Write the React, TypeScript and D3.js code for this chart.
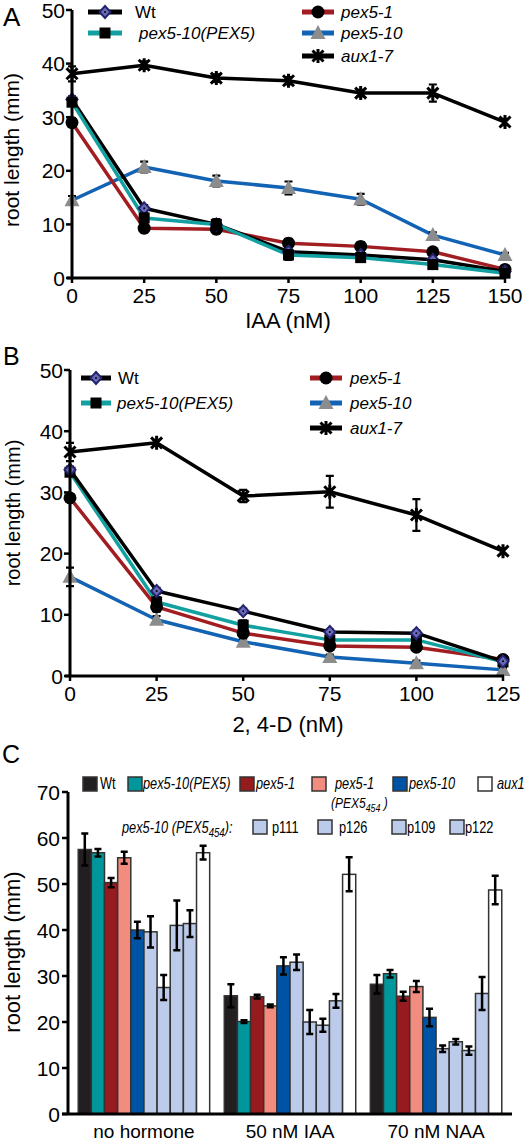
import React from 'react';
import * as d3 from 'd3';

const FONT = "'Liberation Sans', Arial, Helvetica, sans-serif";

// ---------- Panel A : IAA ----------
const iaaDoses = [0, 25, 50, 75, 100, 125, 150];
const iaaWt = [33.3, 13.0, 10.0, 4.9, 4.3, 3.4, 1.2];
const iaaWtErr = [0.6, 0.6, 0.6, 0.5, 0.5, 0.4, 0.3];
const iaaPex510PEX5 = [32.8, 11.2, 10.0, 4.3, 3.8, 2.5, 0.9];
const iaaPex510PEX5Err = [0.6, 0.8, 1.0, 0.9, 0.8, 0.5, 0.3];
const iaaPex51 = [29.0, 9.3, 9.1, 6.5, 5.9, 4.9, 1.6];
const iaaPex51Err = [0.8, 0.8, 0.8, 0.8, 0.8, 0.5, 0.5];
const iaaPex510 = [14.5, 20.7, 18.1, 16.8, 14.7, 8.0, 4.3];
const iaaPex510Err = [0.8, 1.0, 1.0, 1.2, 1.0, 0.5, 0.4];
const iaaAux17 = [38.1, 39.7, 37.3, 36.8, 34.5, 34.5, 29.1];
const iaaAux17Err = [1.4, 0.7, 0.7, 0.7, 0.6, 1.6, 0.6];

// ---------- Panel B : 2,4-D ----------
const dDoses = [0, 25, 50, 75, 100, 125];
const dWt = [33.7, 13.9, 10.6, 7.2, 7.0, 2.4];
const dWtErr = [0.5, 0.5, 0.4, 0.4, 0.4, 0.3];
const dPex510PEX5 = [33.3, 12.1, 8.3, 5.9, 5.9, 2.3];
const dPex510PEX5Err = [0.6, 0.8, 0.8, 0.6, 0.6, 0.3];
const dPex51 = [29.1, 11.3, 7.0, 4.9, 4.7, 2.7];
const dPex51Err = [0.6, 0.8, 0.6, 0.6, 0.6, 0.4];
const dPex510 = [16.2, 9.2, 5.6, 3.1, 2.1, 1.0];
const dPex510Err = [1.5, 0.6, 0.5, 0.4, 0.4, 0.3];
const dAux17 = [36.6, 38.1, 29.4, 30.1, 26.3, 20.4];
const dAux17Err = [1.5, 0.5, 1.0, 2.6, 2.6, 0.5];

const lineTicksY = [0, 10, 20, 30, 40, 50];

// ---------- Panel C : bars ----------
const groups = ['no hormone', '50 nM IAA', '70 nM NAA'];
const genotypes = ['Wt', 'pex5-10(PEX5)', 'pex5-1', 'pex5-1(PEX5454)', 'pex5-10', 'p111', 'p126', 'p109', 'p122', 'aux1'];
const genotypeColors = ['#231f20', '#00979c', '#951b1e', '#f28c7f', '#0053a4', '#bccbe9', '#bccbe9', '#bccbe9', '#bccbe9', '#ffffff'];
const noHormone = [57.5, 56.8, 50.3, 55.7, 40.0, 39.6, 27.5, 41.0, 41.4, 56.8];
const noHormoneErr = [3.5, 0.8, 1.0, 1.3, 1.8, 3.4, 2.7, 5.4, 2.9, 1.5];
const iaa50 = [25.7, 20.1, 25.5, 23.5, 32.2, 33.0, 20.0, 19.3, 24.6, 52.1];
const iaa50Err = [2.5, 0.3, 0.4, 0.3, 1.9, 1.7, 2.6, 1.4, 1.5, 3.7];
const naa70 = [28.2, 30.5, 25.6, 27.7, 21.0, 14.2, 15.7, 13.8, 26.2, 48.7];
const naa70Err = [2.0, 0.8, 1.0, 1.2, 1.9, 0.7, 0.6, 0.9, 3.6, 3.1];
const barTicksY = [0, 10, 20, 30, 40, 50, 60, 70];

type MarkerKind = 'diamond' | 'square' | 'circle' | 'triangle' | 'star';

function Marker({ m, x, y }: { m: MarkerKind; x: number; y: number }) {
  switch (m) {
    case 'diamond':
      return (
        <g>
          <path d={`M${x},${y - 6}L${x + 5.5},${y}L${x},${y + 6}L${x - 5.5},${y}Z`} fill="#6a6ab8" stroke="#23236e" strokeWidth={2} />
          <circle cx={x} cy={y} r={1} fill="#000" />
        </g>
      );
    case 'square':
      return <rect x={x - 5.5} y={y - 5.5} width={11} height={11} fill="#000" />;
    case 'circle':
      return <circle cx={x} cy={y} r={6.5} fill="#000" />;
    case 'triangle':
      return <path d={`M${x},${y - 8}L${x + 7.5},${y + 6}L${x - 7.5},${y + 6}Z`} fill="#8c8c8c" />;
    case 'star':
      return (
        <path
          d={`M${x - 5.5},${y - 5.5}L${x + 5.5},${y + 5.5}M${x + 5.5},${y - 5.5}L${x - 5.5},${y + 5.5}M${x},${y - 7}L${x},${y + 7}`}
          stroke="#000"
          strokeWidth={3}
          fill="none"
        />
      );
  }
  return null;
}

type Series = { name: string; values: number[]; err: number[]; color: string; marker: MarkerKind };

function LinePanel(props: { doses: number[]; series: Series[]; xr: [number, number]; yr: [number, number] }) {
  const { doses, series, xr, yr } = props;
  const x = d3.scaleLinear().domain([doses[0], doses[doses.length - 1]]).range(xr);
  const y = d3.scaleLinear().domain([0, 50]).range(yr);
  const line = d3
    .line<number>()
    .x((_, i) => x(doses[i]))
    .y((d) => y(d));
  return (
    <g>
      {series.map((s) => (
        <path key={s.name} d={line(s.values) || ''} fill="none" stroke={s.color} strokeWidth={3.5} strokeLinejoin="round" />
      ))}
      {series.map((s) =>
        s.values.map((v, i) => (
          <g key={s.name + i}>
            <path
              d={`M${x(doses[i])},${y(v + s.err[i])}V${y(v - s.err[i])}M${x(doses[i]) - 4},${y(v + s.err[i])}H${x(doses[i]) + 4}M${x(doses[i]) - 4},${y(v - s.err[i])}H${x(doses[i]) + 4}`}
              stroke="#000"
              strokeWidth={2.2}
              fill="none"
            />
            <Marker m={s.marker} x={x(doses[i])} y={y(v)} />
          </g>
        ))
      )}
      <line x1={xr[0]} x2={xr[0]} y1={yr[1]} y2={yr[0]} stroke="#000" strokeWidth={3} />
      <line x1={xr[0] - 5} x2={xr[1] + 1} y1={yr[0]} y2={yr[0]} stroke="#000" strokeWidth={3} />
      {lineTicksY.map((t) => (
        <g key={'y' + t}>
          <line x1={xr[0] - 6} x2={xr[0]} y1={y(t)} y2={y(t)} stroke="#000" strokeWidth={2.5} />
          <text x={xr[0] - 7} y={y(t)} dy="0.36em" textAnchor="end" fontSize={21} fontFamily={FONT}>
            {t}
          </text>
        </g>
      ))}
      {doses.map((t) => (
        <g key={'x' + t}>
          <line x1={x(t)} x2={x(t)} y1={yr[0]} y2={yr[0] + 5} stroke="#000" strokeWidth={2.5} />
          <text x={x(t)} y={yr[0] + 25} textAnchor="middle" fontSize={21} fontFamily={FONT}>
            {t}
          </text>
        </g>
      ))}
    </g>
  );
}

function LegendLine({ x1, x2, y, color, marker, label, tx, italic, size }: any) {
  return (
    <g>
      <line x1={x1} x2={x2} y1={y} y2={y} stroke={color} strokeWidth={5} />
      <Marker m={marker} x={(x1 + x2) / 2} y={y} />
      <text x={tx} y={y + 6} fontSize={size} fontStyle={italic ? 'italic' : 'normal'} fontFamily={FONT}>
        {label}
      </text>
    </g>
  );
}

// condensed text: regular sans squeezed horizontally
function NText({ x, y, italic, size, children }: any) {
  return (
    <g transform={`translate(${x},${y}) scale(0.8,1)`}>
      <text x={0} y={0} fontFamily={FONT} fontSize={size || 16} fontStyle={italic ? 'italic' : 'normal'}>
        {children}
      </text>
    </g>
  );
}

function BarPanel() {
  const xg = d3.scaleBand<string>().domain(groups).range([68, 512]).paddingInner(0.1).paddingOuter(0.07);
  const xb = d3.scaleBand<string>().domain(genotypes).range([0, xg.bandwidth()]);
  const y = d3.scaleLinear().domain([0, 70]).range([1114, 792]);
  const groupData = [
    { g: groups[0], v: noHormone, e: noHormoneErr },
    { g: groups[1], v: iaa50, e: iaa50Err },
    { g: groups[2], v: naa70, e: naa70Err },
  ];
  return (
    <g>
      {groupData.map((gd) =>
        genotypes.map((gt, i) => {
          const bx = (xg(gd.g) || 0) + (xb(gt) || 0);
          const w = xb.bandwidth();
          const v = gd.v[i];
          const e = gd.e[i];
          const cx = bx + w / 2;
          return (
            <g key={gd.g + gt}>
              <rect x={bx} y={y(v)} width={w} height={y(0) - y(v)} fill={genotypeColors[i]} stroke="#333" strokeWidth={1.5} />
              <path
                d={`M${cx},${y(v + e)}V${y(v - e)}M${cx - 3.5},${y(v + e)}H${cx + 3.5}M${cx - 3.5},${y(v - e)}H${cx + 3.5}`}
                stroke="#000"
                strokeWidth={2.5}
                fill="none"
              />
            </g>
          );
        })
      )}
      <line x1={68} x2={68} y1={792} y2={1114} stroke="#000" strokeWidth={3} />
      <line x1={62} x2={512} y1={1114} y2={1114} stroke="#000" strokeWidth={3} />
      {barTicksY.map((t) => (
        <g key={'cy' + t}>
          <line x1={62} x2={68} y1={y(t)} y2={y(t)} stroke="#000" strokeWidth={2.5} />
          <text x={60} y={y(t)} dy="0.36em" textAnchor="end" fontSize={21} fontFamily={FONT}>
            {t}
          </text>
        </g>
      ))}
      {groups.map((g) => (
        <text key={g} x={(xg(g) || 0) + xg.bandwidth() / 2} y={1138} textAnchor="middle" fontSize={19} fontFamily={FONT}>
          {g}
        </text>
      ))}
    </g>
  );
}

function Swatch({ x, y, fill }: { x: number; y: number; fill: string }) {
  return <rect x={x} y={y - 7} width={14} height={14} fill={fill} stroke="#333" strokeWidth={1.5} />;
}

export default function App() {
  const seriesA: Series[] = [
    { name: 'aux1-7', values: iaaAux17, err: iaaAux17Err, color: '#000', marker: 'star' },
    { name: 'pex5-10', values: iaaPex510, err: iaaPex510Err, color: '#1363b4', marker: 'triangle' },
    { name: 'pex5-1', values: iaaPex51, err: iaaPex51Err, color: '#a11d22', marker: 'circle' },
    { name: 'Wt', values: iaaWt, err: iaaWtErr, color: '#000', marker: 'diamond' },
    { name: 'pex5-10(PEX5)', values: iaaPex510PEX5, err: iaaPex510PEX5Err, color: '#12a0a0', marker: 'square' },
  ];
  const seriesB: Series[] = [
    { name: 'aux1-7', values: dAux17, err: dAux17Err, color: '#000', marker: 'star' },
    { name: 'pex5-10', values: dPex510, err: dPex510Err, color: '#1363b4', marker: 'triangle' },
    { name: 'pex5-1', values: dPex51, err: dPex51Err, color: '#a11d22', marker: 'circle' },
    { name: 'pex5-10(PEX5)', values: dPex510PEX5, err: dPex510PEX5Err, color: '#12a0a0', marker: 'square' },
    { name: 'Wt', values: dWt, err: dWtErr, color: '#000', marker: 'diamond' },
  ];
  return (
    <svg width={531} height={1141} style={{ position: 'absolute', left: 0, top: 0, background: '#fff' }} fontFamily={FONT}>
      <rect width={531} height={1141} fill="#fff" />
      {/* Panel A */}
      <text x={3} y={26} fontSize={26} fontFamily={FONT}>A</text>
      <text transform="translate(19,150) rotate(-90)" textAnchor="middle" fontSize={21} fontFamily={FONT}>root length (mm)</text>
      <LinePanel doses={iaaDoses} series={seriesA} xr={[72, 505]} yr={[278, 10]} />
      <text x={288} y={328} textAnchor="middle" fontSize={22} fontFamily={FONT}>IAA (nM)</text>
      <LegendLine x1={88} x2={122} y={12} color="#000" marker="diamond" label="Wt" tx={135} size={17} />
      <LegendLine x1={88} x2={122} y={33} color="#12a0a0" marker="square" label="pex5-10(PEX5)" tx={139} italic size={17} />
      <LegendLine x1={302} x2={334} y={12} color="#a11d22" marker="circle" label="pex5-1" tx={341} italic size={17} />
      <LegendLine x1={302} x2={334} y={33} color="#1363b4" marker="triangle" label="pex5-10" tx={341} italic size={17} />
      <LegendLine x1={302} x2={334} y={56} color="#000" marker="star" label="aux1-7" tx={341} italic size={17} />

      {/* Panel B */}
      <text x={3} y={365} fontSize={25} fontFamily={FONT}>B</text>
      <text transform="translate(20,513) rotate(-90)" textAnchor="middle" fontSize={20} fontFamily={FONT}>root length (mm)</text>
      <LinePanel doses={dDoses} series={seriesB} xr={[70, 503]} yr={[676, 370]} />
      <text x={288} y={732} textAnchor="middle" fontSize={22} fontFamily={FONT}>2, 4-D (nM)</text>
      <LegendLine x1={81} x2={111} y={378} color="#000" marker="diamond" label="Wt" tx={118} size={17} />
      <LegendLine x1={81} x2={111} y={403} color="#12a0a0" marker="square" label="pex5-10(PEX5)" tx={117} italic size={17} />
      <LegendLine x1={310} x2={342} y={378} color="#a11d22" marker="circle" label="pex5-1" tx={350} italic size={17} />
      <LegendLine x1={310} x2={342} y={403} color="#1363b4" marker="triangle" label="pex5-10" tx={350} italic size={17} />
      <LegendLine x1={310} x2={342} y={428} color="#000" marker="star" label="aux1-7" tx={350} italic size={17} />

      {/* Panel C */}
      <text x={2} y={763} fontSize={25} fontFamily={FONT}>C</text>
      <text transform="translate(20,952) rotate(-90)" textAnchor="middle" fontSize={22} fontFamily={FONT}>root length (mm)</text>
      <BarPanel />
      {/* legend row 1 */}
      <Swatch x={83} y={784} fill={genotypeColors[0]} />
      <NText x={100} y={789}>Wt</NText>
      <Swatch x={128} y={784} fill={genotypeColors[1]} />
      <NText x={143} y={789} italic>pex5-10(PEX5)</NText>
      <Swatch x={240} y={784} fill={genotypeColors[2]} />
      <NText x={256} y={789} italic>pex5-1</NText>
      <Swatch x={312} y={784} fill={genotypeColors[3]} />
      <NText x={335} y={789} italic>pex5-1</NText>
      <NText x={331} y={808} italic size={15}>
        (PEX5<tspan dy={4} fontSize={11}>454</tspan>
        <tspan dy={-4}> )</tspan>
      </NText>
      <Swatch x={393} y={784} fill={genotypeColors[4]} />
      <NText x={409} y={789} italic>pex5-10</NText>
      <Swatch x={478} y={784} fill={genotypeColors[9]} />
      <NText x={497} y={789} italic>aux1</NText>
      {/* legend row 2 */}
      <NText x={122} y={833} italic>
        pex5-10 (PEX5<tspan dy={4} fontSize={12}>454</tspan>
        <tspan dy={-4}>):</tspan>
      </NText>
      <Swatch x={253} y={827} fill={genotypeColors[5]} />
      <NText x={272} y={833}>p111</NText>
      <Swatch x={318} y={827} fill={genotypeColors[6]} />
      <NText x={339} y={833}>p126</NText>
      <Swatch x={392} y={827} fill={genotypeColors[7]} />
      <NText x={407} y={833}>p109</NText>
      <Swatch x={450} y={827} fill={genotypeColors[8]} />
      <NText x={465} y={833}>p122</NText>
    </svg>
  );
}
